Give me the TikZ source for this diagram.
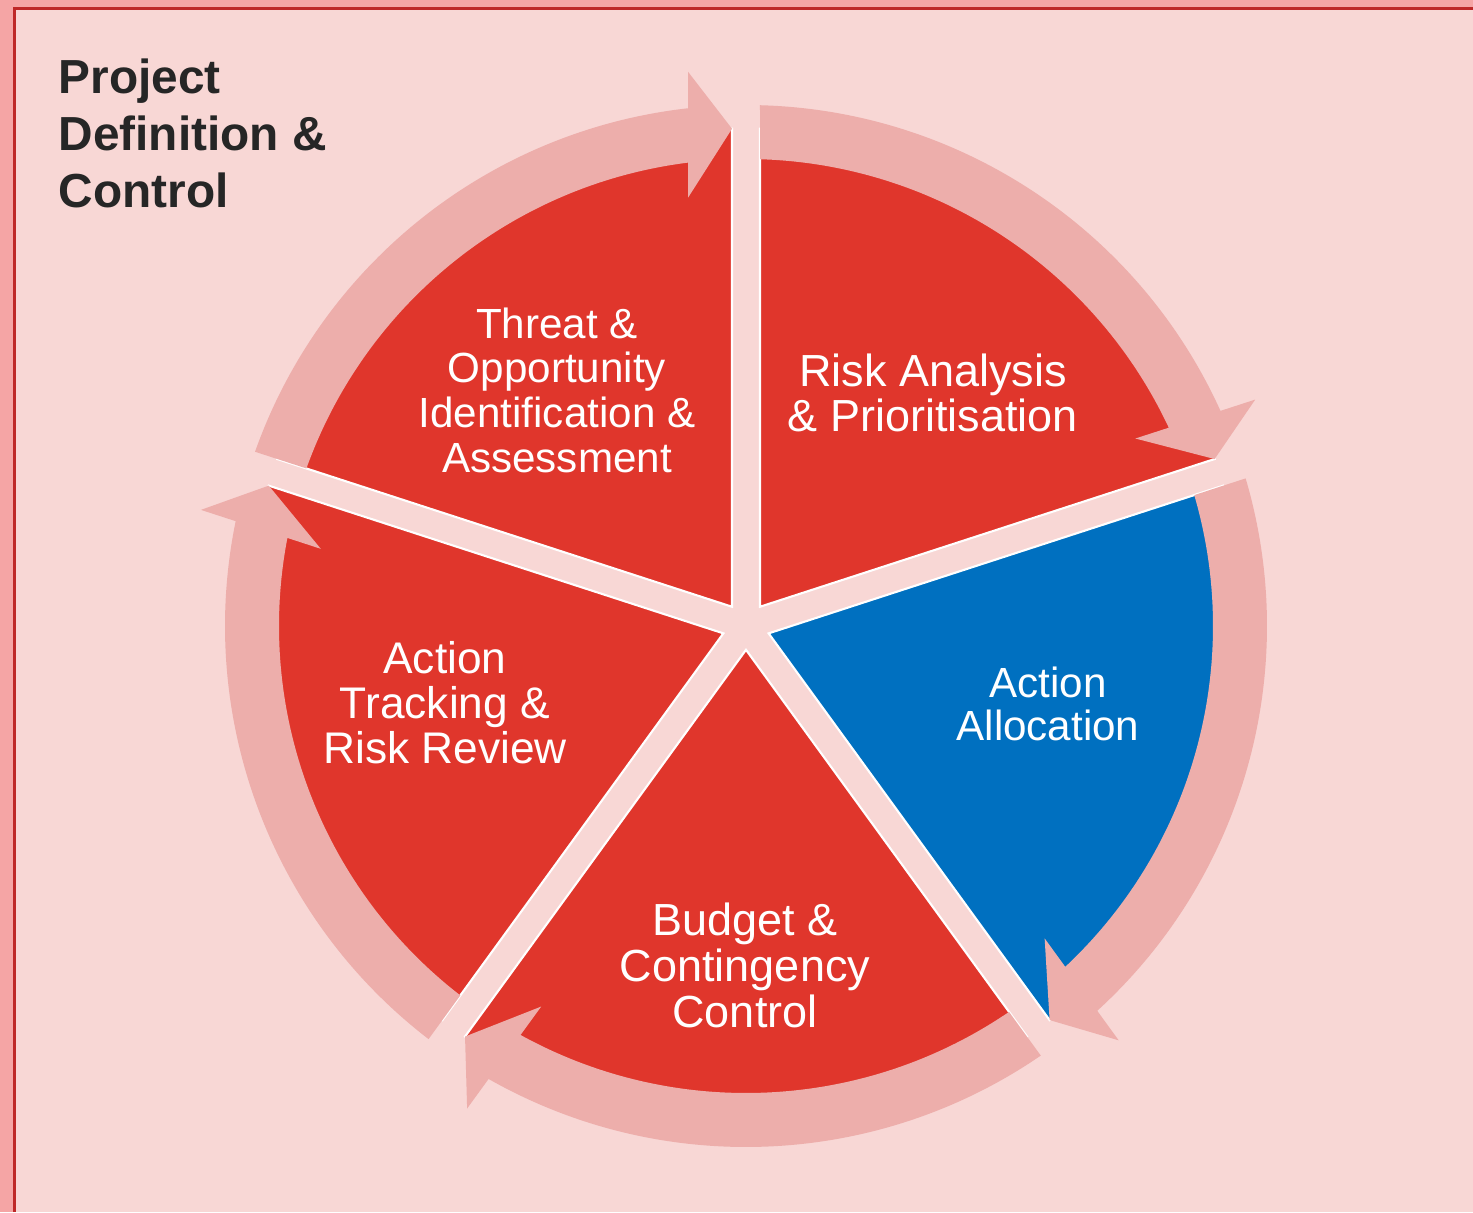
\documentclass[tikz,border=0pt]{standalone}
\usepackage{fontspec}
\setmainfont{Liberation Sans}
\usepackage{tikz}
\usetikzlibrary{calc}
\tikzset{wedge/.style = {draw=white, line width=0.6pt},
         segtext/.style = {text=white, align=center, inner sep=0pt}}
\definecolor{bgpink}{RGB}{248,215,213}
\definecolor{ringpink}{RGB}{237,174,171}
\definecolor{mred}{RGB}{224,54,44}
\definecolor{mblue}{RGB}{0,112,192}
\definecolor{edgered}{RGB}{245,165,165}
\definecolor{darkred}{RGB}{190,40,40}
\definecolor{titlegray}{RGB}{38,38,38}

\begin{document}
\begin{tikzpicture}
    \useasboundingbox (-7.46, -5.86) rectangle (7.27, 6.26);
    \fill [edgered] (-7.46, -5.86) rectangle (7.27, 6.26);
    \fill [bgpink] (-7.31, -5.86) rectangle (7.27, 6.177);
    \draw [darkred, line width=0.03cm] (-7.31, -5.86) -- (-7.31, 6.177) -- (7.27, 6.177);

    \foreach \b/\col in {126/mred, 54/mred, -18/mblue, -90/mred, -162/mred}
      \filldraw [wedge, fill=\col] (\b:0.238) -- ++(\b+36:4.78)
        arc [start angle=\b+36, end angle=\b-36, radius=4.78] -- cycle;

    \foreach \b in {126, 54, -18, -90, -162}
      \fill [ringpink] (\b+36-1.54:5.21)
        arc [start angle=\b+36-1.54, end angle=\b-36+6.39, radius=5.21]
        -- ($(\b:0.238)+(\b-36:5.35)+(\b+54:0.44)$)
        -- ($(\b:0.238)+(\b-36:4.78)$)
        -- ($(\b:0.238)+(\b-36:4.09)+(\b+54:0.44)$)
        -- (\b-36+7.13:4.67)
        arc [start angle=\b-36+7.13, end angle=\b+36-1.72, radius=4.67] -- cycle;

    \node [anchor=north west, inner sep=0pt, align=left, text=titlegray,
           font=\bfseries\fontsize{13.6}{16.2}\selectfont] (title) at (-6.88, 5.68)
          {Project\\Definition \&\\Control};

    \node [segtext, font=\fontsize{12}{12.7}\selectfont] (threat) at (-1.89, 2.36)
          {Threat \&\\Opportunity\\Identification \&\\Assessment};
    \node [segtext, font=\fontsize{12.8}{12.8}\selectfont] (risk) at (1.87, 2.33)
          {Risk Analysis\\\& Prioritisation};
    \node [segtext, font=\fontsize{12}{12.1}\selectfont] (alloc) at (3.02, -0.78)
          {Action\\Allocation};
    \node [segtext, font=\fontsize{12.8}{13.1}\selectfont] (budget) at (-0.01, -3.39)
          {Budget \&\\Contingency\\Control};
    \node [segtext, font=\fontsize{12.6}{12.8}\selectfont] (tracking) at (-3.01, -0.77)
          {Action\\Tracking \&\\Risk Review};
  \end{tikzpicture}
\end{document}
